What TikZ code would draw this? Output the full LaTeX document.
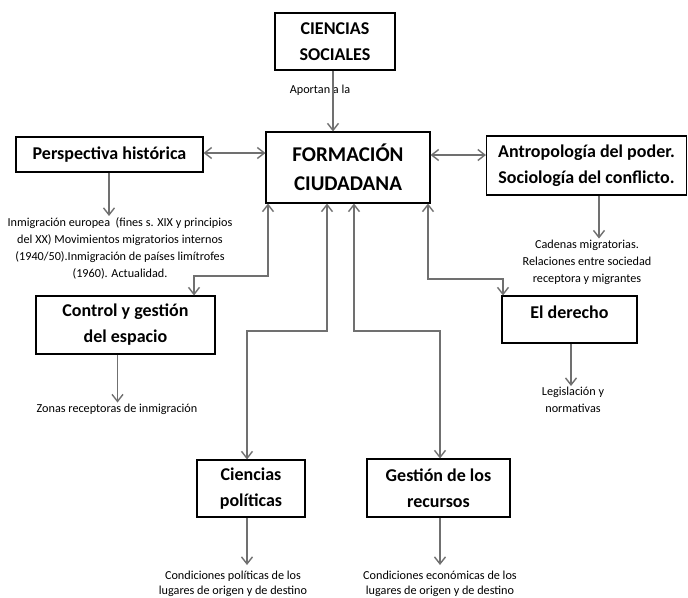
\documentclass[tikz,border=0pt]{standalone}
\usepackage{fontspec}
\setmainfont{Carlito}
\usetikzlibrary{arrows.meta}
\definecolor{linkgray}{HTML}{707070}

\begin{document}
\begin{tikzpicture}[x=1pt,y=-1pt,
  box/.style={draw,line width=1.1pt,align=center,inner sep=0pt,
    font=\bfseries\fontsize{18}{26}\selectfont},
  txt/.style={align=center,inner sep=1pt,font=\fontsize{12.2}{17}\selectfont},
  link/.style={draw=linkgray,line width=1.4pt,
    -{Straight Barb[length=7pt,width=11pt]}},
  both/.style={link,{Straight Barb[length=7pt,width=11pt]}-{Straight Barb[length=7pt,width=11pt]}}]
  \useasboundingbox (0,0) rectangle (688,597);

  \node (CS) at (335,41.5) [box,minimum width=120pt,minimum height=57pt] {CIENCIAS\\SOCIALES};
  \node (FC) at (348,167.5) [box,minimum width=164pt,minimum height=71pt,
    font=\bfseries\fontsize{21}{29}\selectfont] {FORMACIÓN\\CIUDADANA};
  \node (PH) at (109.5,154.5) [box,minimum width=187pt,minimum height=35pt] {Perspectiva histórica};
  \node (AP) at (586.5,165.5) [box,minimum width=200pt,minimum height=59pt]
    {Antropología del poder.\\Sociología del conflicto.};
  \node (CG) at (125.5,325) [box,minimum width=179pt,minimum height=58pt]
    {Control y gestión\\del espacio};
  \node (ED) at (569.5,319.5) [box,minimum width=135pt,minimum height=47pt,
    text depth=14pt] {El derecho};
  \node (CP) at (251,488.5) [box,minimum width=108pt,minimum height=57pt]
    {Ciencias\\políticas};
  \node (GR) at (438.5,488) [box,minimum width=143pt,minimum height=58pt]
    {Gestión de los\\recursos};

  \node (AL) at (320,90) [txt] {Aportan a la};
  \node (PHt) at (120,248) [txt] {Inmigración europea~ (fines s. XIX y principios\\
    del XX) Movimientos migratorios internos\\(1940/50).Inmigración de países limítrofes\\
    (1960). Actualidad.};
  \node (APt) at (587,262) [txt] {Cadenas migratorias.\\Relaciones entre sociedad\\
    receptora y migrantes};
  \node (CGt) at (117,409) [txt] {Zonas receptoras de inmigración};
  \node (EDt) at (573,400) [txt] {Legislación y\\normativas};
  \node (CPt) at (233,584) [txt,font=\fontsize{12.2}{14.5}\selectfont]
    {Condiciones políticas de los\\lugares de origen y de destino};
  \node (GRt) at (440,584) [txt,font=\fontsize{12.2}{14.5}\selectfont]
    {Condiciones económicas de los\\lugares de origen y de destino};

  % links round the centre
  \draw[link] (CS.south -| 333,0) -- (FC.north -| 333,0);
  \draw[both] (PH.east |- 0,153) -- (FC.west |- 0,153);
  \draw[both] (FC.east |- 0,155) -- (AP.west |- 0,155);

  \draw[both] (FC.south -| 268,0) |- (194,276) -- (CG.north -| 194,0);
  \draw[both] (FC.south -| 327,0) |- (247,331) -- (CP.north -| 247,0);
  \draw[both] (FC.south -| 354,0) |- (440,331) -- (GR.north -| 440,0);
  \draw[both] (FC.south -| 428,0) |- (503,279) -- (ED.north -| 503,0);

  % down to the texts
  \draw[link] (PH.south -| 109,0) -- (PHt.north -| 109,0);
  \draw[link] (AP.south -| 599,0) -- (APt.north -| 599,0);
  \draw[link] (CG.south -| 117.5,0) -- (CGt.north -| 117.5,0);
  \draw[link] (ED.south -| 571,0) -- (EDt.north -| 571,0);
  \draw[link] (CP.south -| 247,0) -- (247,565);
  \draw[link] (GR.south -| 440,0) -- (440,565);
\end{tikzpicture}
\end{document}
